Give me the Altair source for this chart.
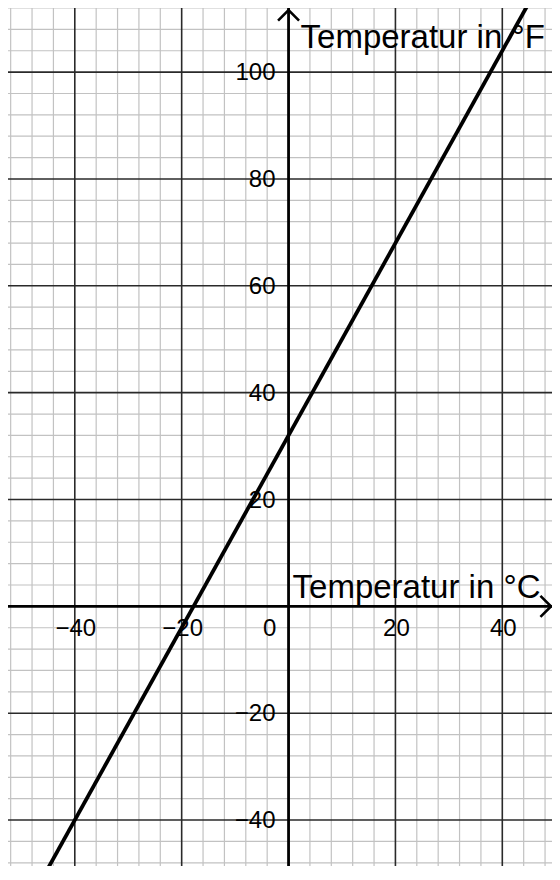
import altair as alt
import pandas as pd

# ---- data -------------------------------------------------------------
celsius = [-60, 60]
fahrenheit = [-76, 140]

minor_x = [-52, -48, -44, -36, -32, -28, -24, -16, -12, -8, -4,
           4, 8, 12, 16, 24, 28, 32, 36, 44, 48]
major_x = [-40, -20, 20, 40]
minor_y = [-48, -44, -36, -32, -28, -24, -16, -12, -8, -4,
           4, 8, 12, 16, 24, 28, 32, 36, 44, 48, 52, 56, 64, 68, 72, 76,
           84, 88, 92, 96, 104, 108, 112]
major_y = [-40, -20, 20, 40, 60, 80, 100]

x_tick_values = [-40, -20, 20, 40]
x_tick_labels = ["−40", "−20", "20", "40"]
y_tick_values = [100, 80, 60, 40, 20, -20, -40]
y_tick_labels = ["100", "80", "60", "40", "20", "−20", "−40"]

x_title = "Temperatur in °C"
y_title = "Temperatur in °F"

W, H = 544, 858
X_DOMAIN = [-52.5, 49.3]
Y_DOMAIN = [-48.6, 112.0]
ARROW_X_END = 49.1
ARROW_Y_END = 111.6

FONT = "Liberation Sans"

xs = alt.Scale(domain=X_DOMAIN, nice=False, zero=False)
ys = alt.Scale(domain=Y_DOMAIN, nice=False, zero=False)


def X(field):
    return alt.X(field, type="quantitative", scale=xs, axis=None)


def Y(field):
    return alt.Y(field, type="quantitative", scale=ys, axis=None)


minor_v = alt.Chart(pd.DataFrame({"x": minor_x})).mark_rule(
    color="#c2c2c2", strokeWidth=1.2).encode(x=X("x"))
minor_h = alt.Chart(pd.DataFrame({"y": minor_y})).mark_rule(
    color="#c2c2c2", strokeWidth=1.2).encode(y=Y("y"))
major_v = alt.Chart(pd.DataFrame({"x": major_x})).mark_rule(
    color="#2a2a2a", strokeWidth=1.6).encode(x=X("x"))
major_h = alt.Chart(pd.DataFrame({"y": major_y})).mark_rule(
    color="#2a2a2a", strokeWidth=1.6).encode(y=Y("y"))

axis_v = alt.Chart(pd.DataFrame({"x": [0]})).mark_rule(
    color="black", strokeWidth=2.8).encode(x=X("x"))
axis_h = alt.Chart(pd.DataFrame({"y": [0]})).mark_rule(
    color="black", strokeWidth=2.8).encode(y=Y("y"))

line = alt.Chart(pd.DataFrame({"c": celsius, "f": fahrenheit})).mark_line(
    color="black", strokeWidth=3.8, clip=True).encode(x=X("c"), y=Y("f"))

arrow_up = alt.Chart(pd.DataFrame({"x": [0], "y": [ARROW_Y_END]})).mark_point(
    shape="M-1,1L0,0L1,1", filled=False, stroke="black", strokeWidth=2.6,
    size=441, opacity=1).encode(x=X("x"), y=Y("y"))
arrow_right = alt.Chart(pd.DataFrame({"x": [ARROW_X_END], "y": [0]})).mark_point(
    shape="M-1,-1L0,0L-1,1", filled=False, stroke="black", strokeWidth=2.6,
    size=441, opacity=1).encode(x=X("x"), y=Y("y"))

xlab = alt.Chart(pd.DataFrame({"x": x_tick_values, "y": [0] * len(x_tick_values),
                               "t": x_tick_labels})).mark_text(
    font=FONT, fontSize=24, align="center", baseline="middle", dx=1, dy=23,
    color="black").encode(x=X("x"), y=Y("y"), text="t:N")
zero_lab = alt.Chart(pd.DataFrame({"x": [0], "y": [0], "t": ["0"]})).mark_text(
    font=FONT, fontSize=24, align="center", baseline="middle", dx=-19, dy=23,
    color="black").encode(x=X("x"), y=Y("y"), text="t:N")
ylab = alt.Chart(pd.DataFrame({"x": [0] * len(y_tick_values), "y": y_tick_values,
                               "t": y_tick_labels})).mark_text(
    font=FONT, fontSize=24, align="right", baseline="middle", dx=-13, dy=1,
    color="black").encode(x=X("x"), y=Y("y"), text="t:N")

xtitle = alt.Chart(pd.DataFrame({"x": [0], "y": [0], "t": [x_title]})).mark_text(
    font=FONT, fontSize=33, align="left", baseline="alphabetic", dx=4, dy=-8,
    color="black").encode(x=X("x"), y=Y("y"), text="t:N")
ytitle = alt.Chart(pd.DataFrame({"x": [0], "y": [Y_DOMAIN[1]], "t": [y_title]})).mark_text(
    font=FONT, fontSize=33, align="left", baseline="alphabetic", dx=12, dy=40,
    color="black").encode(x=X("x"), y=Y("y"), text="t:N")

chart = alt.layer(
    minor_v, minor_h, major_v, major_h, axis_v, axis_h, line,
    arrow_up, arrow_right, xlab, zero_lab, ylab, xtitle, ytitle
).properties(
    width=W, height=H, padding=0, background="white",
    autosize=alt.AutoSizeParams(type="none")
).configure_view(stroke=None)

chart.save("out.html", embed_options={"renderer": "svg", "actions": False})
